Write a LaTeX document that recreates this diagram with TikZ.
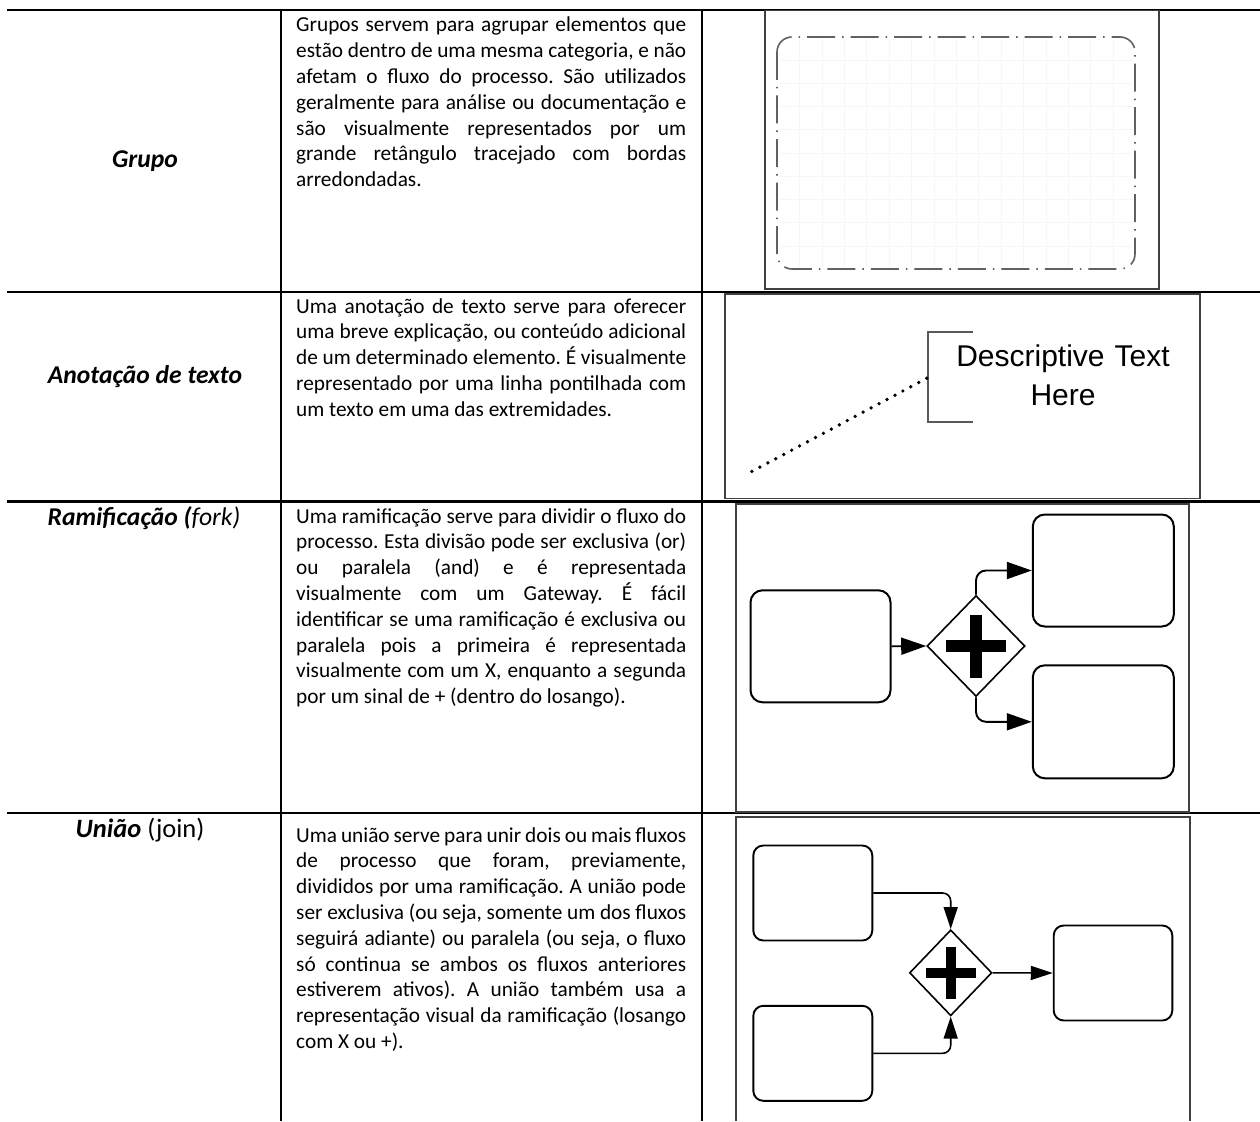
\documentclass[tikz,border=0pt]{standalone}
\usepackage{fontspec}
\setmainfont{Carlito}
\newfontfamily\arialfont{Liberation Sans}
\usetikzlibrary{shapes.geometric,arrows.meta}
\frenchspacing
% one fully justified line of a description cell, with the font's own stretchable spaces
\newcommand{\justline}[1]{\makebox[390pt][s]{\spaceskip=0pt\xspaceskip=0pt\relax #1}\\}
% closing line of a description cell, natural width
\newcommand{\lastjline}[1]{\mbox{\spaceskip=0pt\xspaceskip=0pt\relax #1}}

\begin{document}
\begin{tikzpicture}[x=1pt,y=-1pt,
  rule/.style={line width=2.2pt, black},
  body/.style={anchor=base west, inner sep=0pt, text width=390pt, align=left,
    font=\fontsize{21.3}{25.8}\selectfont},
  label/.style={anchor=base, inner sep=0pt,
    font=\fontsize{25.6}{30}\selectfont\bfseries\itshape},
  frame/.style={draw=black!75, line width=1.6pt},
  gridline/.style={draw=black!3.5, line width=0.6pt},
  grouprect/.style={draw=black!62, line width=1.6pt, rounded corners=15pt,
    dash pattern=on 28pt off 7pt on 1.5pt off 7pt},
  task/.style={draw=black, line width=2pt, rounded corners=12pt, inner sep=0pt},
  smalltask/.style={draw=black, line width=1.9pt, rounded corners=10pt, inner sep=0pt},
  gate/.style={diamond, draw=black, line width=1.6pt, inner sep=0pt, fill=white},
  flow/.style={draw=black, line width=1.9pt, rounded corners=10pt,
    -{Triangle[length=25pt,width=17pt]}},
  smallflow/.style={draw=black, line width=1.6pt, rounded corners=8pt,
    -{Triangle[length=22pt,width=14pt]}},
]
\useasboundingbox (0,0) rectangle (1260,1121);
\fill[white] (0,0) rectangle (1260,1121);

% ---------- table rules ----------
\draw[rule] (7,10) -- (1260,10);
\draw[rule] (7,292) -- (1260,292);
\draw[rule] (7,501.5) -- (1260,501.5);
\draw[rule] (7,813) -- (1260,813);
\draw[rule] (281,10) -- (281,1121);
\draw[rule] (702,10) -- (702,1121);

% ---------- first column: element names ----------
\node[label] (lgrupo) at (145,167) {Grupo};
\node[label] (lanot) at (145,383) {Anotação de texto};
\node[label] (lram) at (144,525) {Ramificação (\mdseries fork)};
\node[label, font=\fontsize{26.5}{30}\selectfont\bfseries\itshape] (luniao) at (140,837) {União\textup{\mdseries{} (join)}};

% ---------- second column: descriptions ----------
\node[body] (dgrupo) at (296,32) {%
\justline{Grupos servem para agrupar elementos que}
\justline{estão dentro de uma mesma categoria, e não}
\justline{afetam o fluxo do processo. São utilizados}
\justline{geralmente para análise ou documentação e}
\justline{são visualmente representados por um}
\justline{grande retângulo tracejado com bordas}
\lastjline{arredondadas.}};

\node[body] (danot) at (296,313) {%
\justline{Uma anotação de texto serve para oferecer}
\justline{uma breve explicação, ou conteúdo adicional}
\justline{de um determinado elemento. É visualmente}
\justline{representado por uma linha pontilhada com}
\lastjline{um texto em uma das extremidades.}};

\node[body] (dram) at (296,523) {%
\justline{Uma ramificação serve para dividir o fluxo do}
\justline{processo. Esta divisão pode ser exclusiva (or)}
\justline{ou paralela (and) e é representada}
\justline{visualmente com um Gateway. É fácil}
\justline{identificar se uma ramificação é exclusiva ou}
\justline{paralela pois a primeira é representada}
\justline{visualmente com um X, enquanto a segunda}
\lastjline{por um sinal de + (dentro do losango).}};

\node[body] (duniao) at (296,842) {%
\justline{Uma união serve para unir dois ou mais fluxos}
\justline{de processo que foram, previamente,}
\justline{divididos por uma ramificação. A união pode}
\justline{ser exclusiva (ou seja, somente um dos fluxos}
\justline{seguirá adiante) ou paralela (ou seja, o fluxo}
\justline{só continua se ambos os fluxos anteriores}
\justline{estiverem ativos). A união também usa a}
\justline{representação visual da ramificação (losango}
\lastjline{com X ou +).}};

% ---------- third column, row 1: group ----------
\draw[frame] (765,10.7) rectangle (1158.7,289);
\foreach \i in {1,...,15} \draw[gridline] (777+\i*22.4,39) -- (777+\i*22.4,267);
\foreach \i in {1,...,9} \draw[gridline] (779,37+\i*23.2) -- (1133,37+\i*23.2);
\draw[grouprect] (777,37) rectangle (1135,269);

% ---------- third column, row 2: text annotation ----------
\draw[frame] (725,293.8) rectangle (1200,498.3);
\draw[draw=black!65, line width=1.7pt] (973.3,331.7) -- (928.3,331.7) -- (928.3,421.7) -- (973.3,421.7);
\coordinate (brk) at (926.7,378.3);
\coordinate (tail) at (748.3,473.3);
\draw[black, line width=3.7pt, line cap=round, dash pattern=on 0pt off 9pt] (brk) -- (tail);
\node[anchor=base, inner sep=0pt, text width=300pt, align=center, text=black,
  font=\arialfont\fontsize{30}{38.3}\selectfont] (desc) at (1063,366.7)
  {Descriptive Text\\Here};

% ---------- third column, row 3: fork ----------
\draw[frame] (735.7,503.8) rectangle (1189,811.7);
\node[task, minimum width=140pt, minimum height=112pt] (f0) at (820.5,646.3) {};
\node[task, minimum width=141pt, minimum height=112pt] (f1) at (1103.3,570.5) {};
\node[task, minimum width=141pt, minimum height=113pt] (f2) at (1103.3,721.8) {};
\node[gate, minimum width=98pt, minimum height=101pt] (g1) at (976,646) {};
\fill[black] ([shift={(-30,-6)}]g1.center) rectangle ([shift={(30,6)}]g1.center);
\fill[black] ([shift={(-6,-31.5)}]g1.center) rectangle ([shift={(6,31.5)}]g1.center);
\draw[flow] (f0.east) -- (g1.west);
\draw[flow] (g1.north) |- (f1.west);
\draw[flow] (g1.south) |- (f2.west);

% ---------- third column, row 4: join ----------
\draw[frame] (735.7,1121) -- (735.7,817.2) -- (1190,817.2) -- (1190,1121);
\node[smalltask, minimum width=119pt, minimum height=95pt] (j0) at (812.8,893) {};
\node[smalltask, minimum width=119pt, minimum height=95pt] (j1) at (812.8,1053.3) {};
\node[smalltask, minimum width=118.6pt, minimum height=95pt] (j2) at (1113,973) {};
\node[gate, minimum width=82.4pt, minimum height=86pt] (g2) at (950.7,972.8) {};
\fill[black] ([shift={(-25,-5)}]g2.center) rectangle ([shift={(25,5)}]g2.center);
\fill[black] ([shift={(-5,-26.3)}]g2.center) rectangle ([shift={(5,26.3)}]g2.center);
\draw[smallflow] (j0.east) -| (g2.north);
\draw[smallflow] (j1.east) -| (g2.south);
\draw[smallflow] (g2.east) -- (j2.west);
\end{tikzpicture}
\end{document}
